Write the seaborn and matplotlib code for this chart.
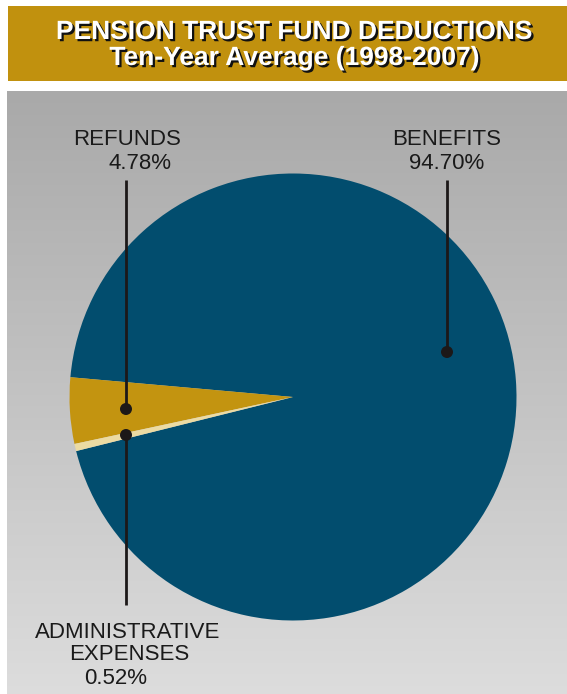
import numpy as np
import matplotlib
matplotlib.use("Agg")
import matplotlib.pyplot as plt
import matplotlib.patheffects as pe
from matplotlib.patches import Rectangle, Circle
import seaborn as sns

# ---- data ----
categories = ["BENEFITS", "REFUNDS", "ADMINISTRATIVE\nEXPENSES"]
shares = [94.70, 4.78, 0.52]
pct_labels = ["94.70%", "4.78%", "0.52%"]
colors = ["#024d6e", "#c39410", "#ecdba3"]
title_lines = ["PENSION TRUST FUND DEDUCTIONS", "Ten-Year Average (1998-2007)"]

sns.set_theme(style="white")
plt.rcParams["font.family"] = ["Liberation Sans", "DejaVu Sans"]

W, H = 567, 694
fig = plt.figure(figsize=(W / 100, H / 100), dpi=100)
fig.patch.set_facecolor("white")
ax = fig.add_axes([0, 0, 1, 1])

def Y(y):  # convert from top-based pixel to axes coords
    return H - y

# gradient panel
grad = np.linspace(0, 1, 256).reshape(-1, 1)
top = np.array([0.663, 0.663, 0.663])
bot = np.array([0.865, 0.865, 0.865])
img = (top + (bot - top) * grad).reshape(256, 1, 3)
ax.imshow(img, extent=[7, W, Y(694), Y(91)], aspect="auto", zorder=0,
          interpolation="bilinear")

# banner
ax.add_patch(Rectangle((8, Y(81)), W - 8, 75, facecolor="#c1910e",
                       edgecolor="none", zorder=1))
shadow = [pe.SimplePatchShadow(offset=(1.6, -1.6), shadow_rgbFace="#111111", alpha=1.0),
          pe.Normal()]
ax.text(294, Y(32), title_lines[0], ha="center", va="center", color="white",
        fontsize=19, fontweight="bold", zorder=3, path_effects=shadow)
ax.text(294, Y(58), title_lines[1], ha="center", va="center", color="white",
        fontsize=19, fontweight="bold", zorder=3, path_effects=shadow)

# pie
cx, cy, r = 293, Y(397), 223.5
ax.pie(shares, colors=colors, startangle=194, counterclock=True,
       center=(cx, cy), radius=r, wedgeprops=dict(linewidth=0),
       frame=True)

# leaders
lc = "#1c1818"
def leader(x, y0, y1, dot_y):
    ax.plot([x, x], [Y(y0), Y(y1)], color=lc, lw=2, zorder=5, solid_capstyle="butt")
    ax.add_patch(Circle((x, Y(dot_y)), 6, facecolor=lc, edgecolor="none", zorder=6))

leader(447, 180, 352, 352)
leader(126, 180, 409, 409)
leader(126, 435, 605, 435)

fs = 16
tc = "#1a1a1a"
ax.text(447, Y(139), categories[0], ha="center", va="center", fontsize=fs, color=tc, zorder=5)
ax.text(447, Y(163), pct_labels[0], ha="center", va="center", fontsize=fs, color=tc, zorder=5)
ax.text(127, Y(139), categories[1], ha="center", va="center", fontsize=fs, color=tc, zorder=5)
ax.text(140, Y(163), pct_labels[1], ha="center", va="center", fontsize=fs, color=tc, zorder=5)
adm = categories[2].split("\n")
ax.text(128, Y(632), adm[0], ha="center", va="center", fontsize=fs, color=tc, zorder=5)
ax.text(129, Y(655), adm[1], ha="center", va="center", fontsize=fs, color=tc, zorder=5)
ax.text(116, Y(679), pct_labels[2], ha="center", va="center", fontsize=fs, color=tc, zorder=5)

ax.set_xlim(0, W)
ax.set_ylim(0, H)
ax.set_aspect("auto")
ax.set_position([0, 0, 1, 1])
ax.axis("off")

fig.savefig("out.png", dpi=100, facecolor="white")
